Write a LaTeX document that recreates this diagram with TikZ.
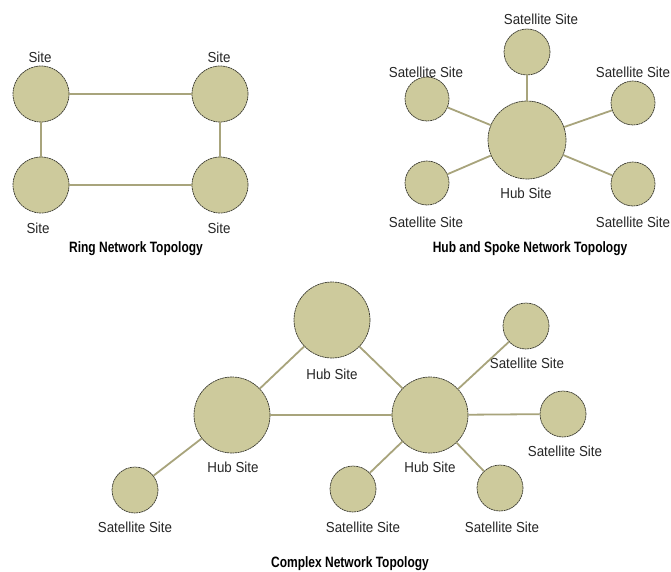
\documentclass[tikz,border=0pt]{standalone}
\usepackage{fontspec}
\setmainfont{Liberation Sans}
\newfontfamily\lblfont[FakeStretch=0.92]{Liberation Sans}
\newfontfamily\ttlfont[FakeStretch=0.8]{Liberation Sans}
\definecolor{sitefill}{HTML}{CDCA9C}
\definecolor{linkcol}{HTML}{A8A47C}
\definecolor{rimcol}{HTML}{3A3A30}
\begin{document}
\begin{tikzpicture}[x=1pt,y=-1pt,
  site/.style={circle,fill=sitefill,draw=rimcol,line width=0.7pt,dash pattern=on 2pt off 0.6pt,inner sep=0pt,minimum size=#1},
  site/.default=56pt,
  lbl/.style={font=\lblfont\fontsize{14.5}{14.5}\selectfont,inner sep=0pt,text=black!85},
  ttl/.style={font=\ttlfont\fontsize{15}{15}\selectfont\bfseries,inner sep=0pt},
  link/.style={draw=linkcol,line width=1.8pt},
  thick link/.style={draw=linkcol,line width=2.8pt}]
\useasboundingbox[fill=white] (0,0) rectangle (671,572);

% ---------------- Ring ----------------
\node[site] (r1) at (41,94) {};
\node[site] (r2) at (220,94) {};
\node[site] (r3) at (41,185) {};
\node[site] (r4) at (220,185) {};
\node[lbl] (r1l) at (40,57) {Site};
\node[lbl] (r2l) at (219,57) {Site};
\node[lbl] (r3l) at (38,228) {Site};
\node[lbl] (r4l) at (219,228) {Site};
\node[ttl] (rt) at (136,249) {Ring Network Topology};
\draw[link] (r1) -- (r2);
\draw[link] (r3) -- (r4);
\draw[thick link] (r1) -- (r3);
\draw[link] (r2) -- (r4);

% ---------------- Hub and spoke ----------------
\node[site=78pt] (h) at (527,140) {};
\node[site=46pt] (s1) at (527,52) {};
\node[site=44pt] (s2) at (427,99) {};
\node[site=44pt] (s3) at (633,103) {};
\node[site=44pt] (s4) at (427,183) {};
\node[site=44pt] (s5) at (633,184) {};
\node[lbl] (s1l) at (541,19) {Satellite Site};
\node[lbl] (s2l) at (426,72) {Satellite Site};
\node[lbl] (s3l) at (633,72) {Satellite Site};
\node[lbl] (s4l) at (426,222) {Satellite Site};
\node[lbl] (s5l) at (633,222) {Satellite Site};
\node[lbl] (hl) at (526,193) {Hub Site};
\node[ttl] (ht) at (530,249) {Hub and Spoke Network Topology};
\foreach \s in {s1,s2,s3,s4,s5} \draw[link] (h) -- (\s);

% ---------------- Complex ----------------
\node[site=76pt] (c1) at (332,320) {};
\node[site=76pt] (c2) at (232,415) {};
\node[site=76pt] (c3) at (430,415) {};
\node[lbl] (c1l) at (332,374) {Hub Site};
\node[lbl] (c2l) at (233,467) {Hub Site};
\node[lbl] (c3l) at (430,467) {Hub Site};
\node[site=46pt] (k1) at (526,326) {};
\node[site=46pt] (k2) at (563,414) {};
\node[site=46pt] (k3) at (353,489) {};
\node[site=46pt] (k4) at (500,488) {};
\node[site=46pt] (k5) at (135,490) {};
\node[lbl] (k1l) at (527,363) {Satellite Site};
\node[lbl] (k2l) at (565,451) {Satellite Site};
\node[lbl] (k3l) at (363,527) {Satellite Site};
\node[lbl] (k4l) at (502,527) {Satellite Site};
\node[lbl] (k5l) at (135,527) {Satellite Site};
\node[ttl] (ct) at (350,564) {Complex Network Topology};
\draw[link] (c1) -- (c2);
\draw[link] (c1) -- (c3);
\draw[thick link] (c2) -- (c3);
\draw[link] (c3) -- (k1);
\draw[link] (c3) -- (k2);
\draw[link] (c3) -- (k3);
\draw[link] (c3) -- (k4);
\draw[link] (c2) -- (k5);
\end{tikzpicture}
\end{document}
